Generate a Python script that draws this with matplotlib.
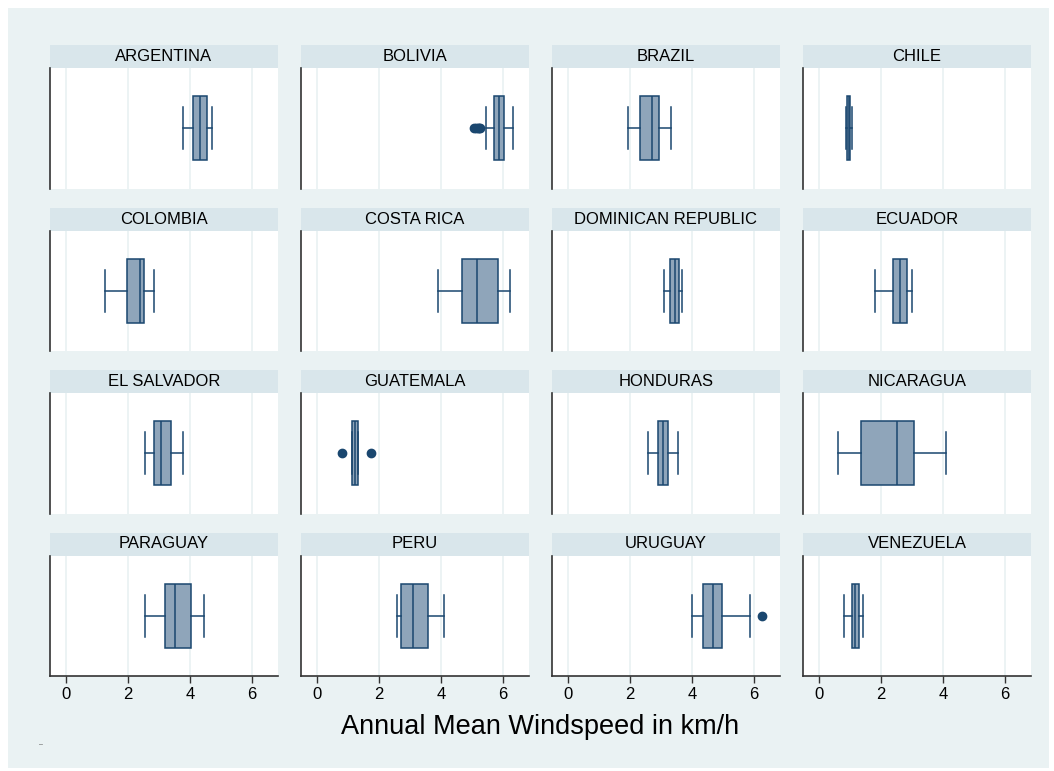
import numpy as np
import matplotlib.pyplot as plt
from matplotlib.patches import Rectangle

plt.rcParams["font.family"] = ["Liberation Sans", "DejaVu Sans"]

BG = "#EAF2F3"
STRIP = "#D9E6EB"
NAVY = "#1A476F"
FILL = "#8FA5BA"

countries = [
    "ARGENTINA", "BOLIVIA", "BRAZIL", "CHILE",
    "COLOMBIA", "COSTA RICA", "DOMINICAN REPUBLIC", "ECUADOR",
    "EL SALVADOR", "GUATEMALA", "HONDURAS", "NICARAGUA",
    "PARAGUAY", "PERU", "URUGUAY", "VENEZUELA",
]
q1 = [4.11, 5.72, 2.32, 0.89, 1.95, 4.69, 3.30, 2.38,
      2.83, 1.14, 2.91, 1.34, 3.19, 2.72, 4.35, 1.06]
median = [4.33, 5.87, 2.71, 0.95, 2.40, 5.16, 3.46, 2.62,
          3.05, 1.22, 3.07, 2.52, 3.50, 3.11, 4.67, 1.17]
q3 = [4.56, 6.04, 2.92, 1.01, 2.50, 5.84, 3.57, 2.85,
      3.39, 1.31, 3.24, 3.05, 4.03, 3.59, 4.98, 1.28]
whisker_lo = [3.77, 5.45, 1.94, 0.86, 1.24, 3.90, 3.08, 1.79,
              2.55, 1.14, 2.59, 0.62, 2.55, 2.58, 4.00, 0.80]
whisker_hi = [4.72, 6.32, 3.32, 1.06, 2.85, 6.24, 3.69, 3.01,
              3.76, 1.31, 3.56, 4.08, 4.44, 4.11, 5.87, 1.41]
outliers = [[], [5.08, 5.13, 5.18, 5.23, 5.27], [], [],
            [], [], [], [],
            [], [0.79, 1.73], [], [],
            [], [], [6.26], []]
x_ticks = [0, 2, 4, 6]

W, H = 1054, 771


def px(x0, y0, x1, y1):
    return [x0 / W, 1 - y1 / H, (x1 - x0) / W, (y1 - y0) / H]


fig = plt.figure(figsize=(W / 100, H / 100), dpi=100)
# light backdrop, inset a few pixels from the white edge
fig.patches.append(Rectangle(px(8, 8, 1049, 768)[:2], (1049 - 8) / W, (768 - 8) / H,
                             transform=fig.transFigure, facecolor=BG,
                             edgecolor="none", zorder=-10))

col_left = [50, 301, 552, 803]
col_width = 228
row_top = [68, 230.5, 393, 555.5]
row_height = 120.5
strip_height = 23

for i, name in enumerate(countries):
    r, c = divmod(i, 4)
    x0 = col_left[c]
    y0 = row_top[r]

    # header strip
    hax = fig.add_axes(px(x0, y0 - strip_height, x0 + col_width, y0))
    hax.set_facecolor(STRIP)
    hax.set_xticks([])
    hax.set_yticks([])
    for s in hax.spines.values():
        s.set_visible(False)
    hax.text(0.5, 0.5, name, ha="center", va="center", fontsize=12,
             transform=hax.transAxes)

    ax = fig.add_axes(px(x0, y0, x0 + col_width, y0 + row_height))
    ax.set_facecolor("white")
    stats = [{
        "med": median[i], "q1": q1[i], "q3": q3[i],
        "whislo": whisker_lo[i], "whishi": whisker_hi[i],
        "fliers": outliers[i],
    }]
    ax.bxp(stats, positions=[0], widths=1.06, capwidths=0.7,
           orientation="horizontal", patch_artist=True,
           boxprops=dict(facecolor=FILL, edgecolor=NAVY, linewidth=1.1),
           medianprops=dict(color=NAVY, linewidth=1.1),
           whiskerprops=dict(color=NAVY, linewidth=1.1),
           capprops=dict(color=NAVY, linewidth=1.1),
           flierprops=dict(marker="o", markerfacecolor=NAVY,
                           markeredgecolor=NAVY, markersize=6))
    ax.set_xlim(-0.52, 6.84)
    ax.set_ylim(-1, 1)
    ax.set_yticks([])
    ax.set_xticks(x_ticks)
    ax.grid(axis="x", color=BG, linewidth=1.3, zorder=0)
    ax.set_axisbelow(True)
    for s in ["top", "right"]:
        ax.spines[s].set_visible(False)
    ax.spines["left"].set_color("#333333")
    ax.spines["left"].set_linewidth(1.2)
    if r == 3:
        ax.spines["bottom"].set_color("#333333")
        ax.spines["bottom"].set_linewidth(1.2)
        ax.tick_params(axis="x", length=5, width=1, color="#333333",
                       labelsize=12, pad=3)
    else:
        ax.spines["bottom"].set_visible(False)
        ax.tick_params(axis="x", length=0, labelbottom=False)

fig.text(540 / W, 1 - 727 / H, "Annual Mean Windspeed in km/h",
         ha="center", va="center", fontsize=19.5)
fig.text(41 / W, 1 - 745 / H, "\u2013", ha="center", va="center",
         fontsize=5, color="#555555")

fig.savefig("out.png", dpi=100)
